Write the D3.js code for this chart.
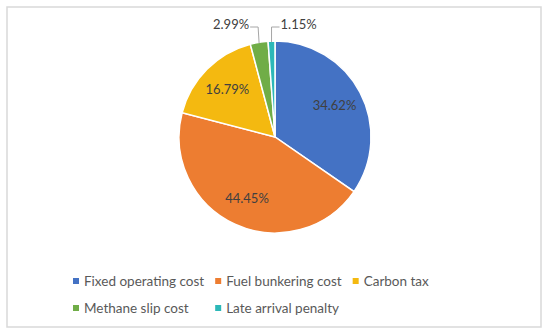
<!DOCTYPE html>
<html>
<head>
<meta charset="utf-8">
<script src="https://cdn.jsdelivr.net/npm/d3@7"></script>
<style>
  html, body { margin: 0; padding: 0; background: #fff; }
  svg { display: block; font-family: Lato, "Liberation Sans", sans-serif; }
</style>
</head>
<body>
<svg id="chart" width="550" height="335"></svg>
<script>
const categories = ['Fixed operating cost', 'Fuel bunkering cost', 'Carbon tax', 'Methane slip cost', 'Late arrival penalty'];
const shares = [34.62, 44.45, 16.79, 2.99, 1.15];
const colors = ['#4472C4', '#ED7D31', '#F4B910', '#70AD47', '#2CB8B8'];
// slices drawn with the label outside the pie
const outsideLabels = ['Methane slip cost', 'Late arrival penalty'];

const width = 550, height = 335;
const cx = 275, cy = 137, radius = 96;

const svg = d3.select('#chart');

// Chart frame
svg.append('rect')
  .attr('x', 7).attr('y', 7)
  .attr('width', 534).attr('height', 320)
  .attr('fill', '#fff')
  .attr('stroke', '#d9d9d9')
  .attr('stroke-width', 1.5);

const data = categories.map((c, i) => ({ name: c, value: shares[i], color: colors[i] }));

const pie = d3.pie().value(d => d.value).sort(null);
const arcs = pie(data);
const arc = d3.arc().innerRadius(0).outerRadius(radius);
const labelArc = d3.arc().innerRadius(radius * 0.7).outerRadius(radius * 0.7);
const edgeArc = d3.arc().innerRadius(radius).outerRadius(radius);

const g = svg.append('g').attr('transform', `translate(${cx},${cy})`);

g.selectAll('path.slice')
  .data(arcs)
  .enter()
  .append('path')
  .attr('class', 'slice')
  .attr('d', arc)
  .attr('fill', d => d.data.color)
  .attr('stroke', '#fff')
  .attr('stroke-width', 1.5);

// Labels inside the big slices
g.selectAll('text.inside')
  .data(arcs.filter(d => !outsideLabels.includes(d.data.name)))
  .enter()
  .append('text')
  .attr('class', 'inside')
  .attr('transform', d => `translate(${labelArc.centroid(d)})`)
  .attr('text-anchor', 'middle')
  .attr('dy', '0.36em')
  .attr('font-size', 13)
  .attr('fill', '#404040')
  .text(d => d.value.toFixed(2) + '%');

// Outside labels with leader lines (left one for the first, right one for the second)
const outside = arcs.filter(d => outsideLabels.includes(d.data.name));
const labelY = 24 - cy;
outside.forEach((d, i) => {
  const p = edgeArc.centroid(d);
  const side = i === 0 ? -1 : 1;
  const elbowX = p[0] + (i === 0 ? -1 : 0);
  const lineY = labelY + 3;
  const t = g.append('text')
    .attr('x', elbowX + side * 9)
    .attr('y', labelY)
    .attr('dy', '0.36em')
    .attr('text-anchor', side < 0 ? 'end' : 'start')
    .attr('font-size', 13)
    .attr('fill', '#404040')
    .text(d.value.toFixed(2) + '%');
  g.append('path')
    .attr('d', d3.line()([[elbowX + side * 8, lineY], [elbowX, lineY], [p[0], p[1] + 1]]))
    .attr('fill', 'none')
    .attr('stroke', '#a6a6a6')
    .attr('stroke-width', 1);
});

// Legend laid out as a grid of 3 columns
const legendX = 72, legendY = [281, 308], nCols = 3, gap = 10, swatch = 6;
const legend = svg.append('g');
const items = legend.selectAll('g.item')
  .data(data)
  .enter()
  .append('g')
  .attr('class', 'item');
items.append('rect')
  .attr('width', swatch).attr('height', swatch)
  .attr('y', -swatch / 2)
  .attr('x', 1)
  .attr('fill', d => d.color);
items.append('text')
  .attr('x', 12)
  .attr('dy', '0.36em')
  .attr('font-size', 13.5)
  .attr('fill', '#595959')
  .text(d => d.name);

const widths = [];
items.each(function (d, i) {
  const w = 12 + this.querySelector('text').getComputedTextLength();
  const col = i % nCols;
  widths[col] = Math.max(widths[col] || 0, w);
});
items.attr('transform', (d, i) => {
  const col = i % nCols, row = Math.floor(i / nCols);
  let x = legendX;
  for (let c = 0; c < col; c++) x += widths[c] + gap;
  return `translate(${x},${legendY[row]})`;
});
</script>
</body>
</html>
